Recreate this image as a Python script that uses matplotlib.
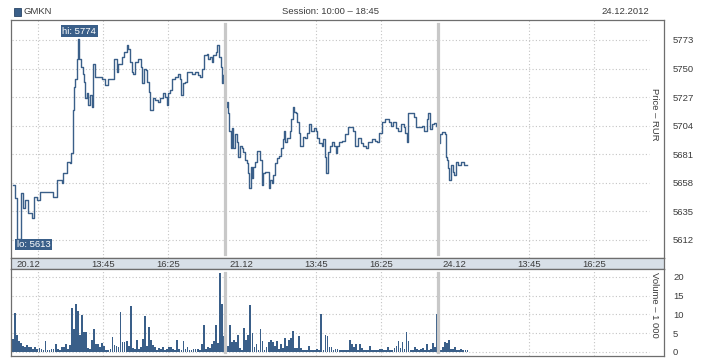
import numpy as np
import matplotlib.pyplot as plt
from matplotlib.patches import Rectangle

plt.rcParams['font.family'] = ['Liberation Sans Narrow', 'Liberation Sans', 'DejaVu Sans']

ticker = "GMKN"
session_txt = "Session: 10:00 – 18:45"
date_txt = "24.12.2012"
day_labels = ["20.12", "21.12", "24.12"]
time_labels = ["13:45", "16:25"]
time_label_min = [225, 385]
session_len = 525  # minutes 10:00-18:45

price_ticks = [5612, 5635, 5658, 5681, 5704, 5727, 5750, 5773]
vol_ticks = [0, 5, 10, 15, 20]

# price, minutes since session open, per day
d1_min = [2, 7, 12, 22, 27, 32, 39, 49, 54, 62, 69, 81, 101, 111, 123, 126, 136, 143, 145, 150,
          152, 155, 159, 162, 165, 169, 174, 177, 180, 184, 187, 192, 196, 200, 205, 210, 221, 229, 237, 242,
          251, 258, 261, 270, 276, 283, 286, 291, 295, 298, 303, 311, 317, 320, 325, 330, 333, 338, 340, 347,
          352, 360, 365, 372, 377, 381, 385, 389, 394, 402, 409, 414, 417, 421, 426, 431, 443, 451, 458, 463,
          468, 473, 480, 483, 488, 492, 495, 503, 506, 510, 515, 517, 521]
d1_px = [5656, 5646, 5613, 5650, 5638, 5644, 5634, 5630, 5647, 5644, 5651, 5651, 5647, 5660, 5658, 5666, 5675, 5674, 5682, 5717,
         5735, 5742, 5758, 5774, 5758, 5751, 5746, 5739, 5726, 5730, 5721, 5729, 5719, 5754, 5743, 5743, 5742, 5737, 5742, 5742,
         5758, 5747, 5754, 5759, 5763, 5769, 5766, 5755, 5747, 5746, 5755, 5758, 5751, 5738, 5750, 5749, 5739, 5731, 5717, 5726,
         5725, 5723, 5726, 5730, 5727, 5721, 5730, 5733, 5742, 5743, 5746, 5742, 5729, 5738, 5739, 5747, 5746, 5747, 5745, 5743,
         5750, 5761, 5762, 5758, 5759, 5755, 5761, 5763, 5769, 5759, 5751, 5738, 5745]

d2_min = [1, 4, 7, 10, 14, 17, 20, 25, 29, 32, 37, 41, 44, 49, 54, 57, 60, 64, 67, 70,
          74, 78, 82, 86, 90, 94, 98, 104, 108, 111, 115, 119, 123, 127, 134, 137, 142, 145, 149, 154,
          160, 163, 167, 170, 175, 178, 182, 186, 191, 197, 202, 207, 213, 219, 224, 227, 232, 238, 242, 246,
          250, 254, 259, 263, 268, 273, 276, 281, 288, 296, 304, 312, 316, 320, 329, 334, 341, 348, 353, 362,
          370, 375, 380, 386, 394, 403, 408, 415, 421, 427, 433, 440, 444, 448, 451, 460, 466, 471, 476, 485,
          491, 497, 501, 506, 510, 514, 519]
d2_px = [5719, 5723, 5714, 5700, 5686, 5702, 5686, 5697, 5691, 5679, 5688, 5686, 5683, 5676, 5674, 5666, 5654, 5671, 5662, 5671,
         5675, 5684, 5684, 5676, 5656, 5666, 5667, 5667, 5654, 5660, 5658, 5664, 5674, 5678, 5680, 5686, 5693, 5700, 5691, 5694,
         5700, 5709, 5719, 5715, 5714, 5707, 5698, 5688, 5695, 5694, 5698, 5705, 5700, 5702, 5700, 5694, 5690, 5688, 5693, 5679,
         5666, 5683, 5688, 5691, 5688, 5682, 5688, 5691, 5692, 5697, 5703, 5703, 5700, 5688, 5694, 5690, 5688, 5686, 5691, 5693,
         5692, 5691, 5698, 5707, 5709, 5707, 5704, 5707, 5702, 5700, 5705, 5703, 5698, 5691, 5714, 5714, 5711, 5703, 5703, 5704,
         5700, 5709, 5714, 5701, 5705, 5706, 5704]

d3_min = [1, 5, 11, 17, 20, 23, 25, 28, 31, 36, 39, 44, 50, 56, 62, 65, 72]
d3_px = [5690, 5697, 5699, 5697, 5679, 5676, 5670, 5660, 5672, 5667, 5664, 5675, 5672, 5675, 5675, 5672, 5672]

# volume (thousands) in 5-minute bins
vol_d1 = [3.5, 10.5, 4.5, 3.0, 2.5, 1.6, 1.2, 1.9, 1.4, 1.2,
          0.9, 1.4, 0.7, 1.0, 0.9, 0.5, 2.8, 0.5, 0.4, 0.7,
          0.9, 2.1, 0.9, 0.5, 1.2, 1.4, 2.0, 0.7, 1.9, 11.8,
          6.0, 12.8, 10.9, 4.5, 9.9, 5.2, 5.4, 1.0, 0.7, 3.2,
          6.2, 2.1, 2.1, 1.4, 2.3, 1.6, 0.5, 0.4, 0.7, 4.1,
          1.8, 1.6, 1.4, 10.7, 2.7, 2.6, 3.0, 1.6, 12.3, 1.0,
          0.9, 3.1, 0.9, 1.4, 3.4, 9.6, 1.6, 6.7, 3.2, 1.8,
          1.4, 0.5, 1.0, 0.7, 1.4, 0.5, 0.7, 1.4, 1.4, 0.9,
          0.5, 3.2, 0.9, 0.5, 2.9, 0.9, 1.4, 0.5, 0.5, 0.9,
          0.7, 0.9, 0.5, 2.1, 7.2, 0.7, 1.4, 1.0, 2.0, 2.9,
          7.2, 2.3, 21.0, 12.8, 4.3]
vol_d2 = [6.1, 1.5, 7.3, 2.6, 3.3, 2.6, 4.6, 1.1, 0.6, 6.4,
          3.1, 4.6, 12.4, 5.1, 1.3, 2.2, 0.6, 6.1, 2.8, 0.6,
          1.3, 2.6, 3.3, 2.6, 1.5, 2.8, 0.8, 2.2, 1.1, 3.6,
          1.7, 3.1, 3.6, 5.7, 1.0, 1.1, 4.2, 1.1, 0.6, 0.4,
          0.4, 1.5, 0.4, 0.4, 0.4, 0.8, 0.5, 10.0, 0.6, 4.4,
          4.2, 1.3, 1.3, 0.4, 0.8, 0.8, 0.4, 0.6, 0.4, 0.6,
          0.4, 3.3, 2.2, 1.3, 2.2, 0.6, 2.0, 1.0, 0.4, 0.6,
          0.4, 1.7, 0.4, 0.4, 0.6, 0.4, 0.8, 0.8, 0.4, 0.4,
          1.2, 0.4, 0.6, 1.1, 1.7, 2.8, 1.1, 2.6, 0.8, 5.4,
          3.0, 0.4, 0.6, 1.2, 0.8, 0.4, 0.8, 1.0, 0.4, 2.2,
          0.6, 0.8, 2.4, 1.3, 10.0]
vol_d3 = [1.3, 0.6, 1.3, 2.6, 2.4, 3.1, 0.8, 0.8, 1.3, 0.4, 0.6, 0.8, 0.4, 0.4, 0.4]

hi_val, lo_val = 5774, 5613

blue = '#3a5f89'
grid_c = '#c4c4c4'
frame_c = '#6e6e6e'
txt_c = '#3c3c3c'
fs = 6.8

W, H = 718, 360
fig = plt.figure(figsize=(W / 100, H / 100), dpi=100)


def box(x0, y0, x1, y1):
    return [x0 / W, 1 - y1 / H, (x1 - x0) / W, (y1 - y0) / H]


ax = fig.add_axes(box(11, 20, 664, 258))
axs = fig.add_axes(box(11, 258, 664, 269))
axv = fig.add_axes(box(11, 269, 664, 356))

xlim = (-2.5, 1607)
for a in (ax, axs, axv):
    a.set_xlim(*xlim)
    a.set_xticks([])
    for s in a.spines.values():
        s.set_color(frame_c)
        s.set_linewidth(0.9)

# price panel
ax.set_ylim(5597.5, 5789.1)
ax.hlines(price_ticks, 0, 1570, colors=grid_c, linestyles=(0, (1, 2)), lw=0.8, zorder=1)
for d, (mins, px) in enumerate([(d1_min, d1_px), (d2_min, d2_px), (d3_min, d3_px)]):
    t = np.array(mins) + d * session_len
    ax.plot(t, px, color=blue, lw=1.0, drawstyle='steps-post', zorder=2)

ax.yaxis.tick_right()
ax.set_yticks(price_ticks)
ax.tick_params(axis='y', length=0, pad=6.5, labelsize=fs, labelcolor=txt_c)
ax.text(0.986, 0.714, "Price – RUR", transform=ax.transAxes, rotation=270,
        ha='center', va='top', fontsize=fs, color=txt_c)

# hi / lo markers
ax.text(166, 5780, "hi: %d" % hi_val, ha='center', va='center', fontsize=fs, color='white',
        bbox=dict(boxstyle='square,pad=0.15', fc=blue, ec='none'), zorder=5)
ax.text(53, 5608.4, "lo: %d" % lo_val, ha='center', va='center', fontsize=fs, color='white',
        bbox=dict(boxstyle='square,pad=0.15', fc=blue, ec='none'), zorder=5)

# volume panel
axv.set_ylim(-1.07, 22.13)
axv.hlines(vol_ticks, 0, 1570, colors=grid_c, linestyles=(0, (1, 2)), lw=0.8, zorder=1)
for d, vols in enumerate([vol_d1, vol_d2, vol_d3]):
    t = d * session_len + 5 * np.arange(len(vols)) + 2.5
    axv.bar(t, vols, width=4.4, color=blue, linewidth=0, zorder=2)
axv.yaxis.tick_right()
axv.set_yticks(vol_ticks)
axv.tick_params(axis='y', length=0, pad=6.5, labelsize=fs, labelcolor=txt_c)
axv.text(0.986, 0.966, "Volume – 1 000", transform=axv.transAxes, rotation=270,
         ha='center', va='top', fontsize=fs, color=txt_c)

# vertical grid and day separators
for d in range(3):
    base = d * session_len
    marks = list(time_label_min)
    if d == 0:
        marks = [65] + marks
    for m in marks:
        ax.axvline(base + m, color=grid_c, ls=(0, (1, 2)), lw=0.8, zorder=1)
        axv.axvline(base + m, color=grid_c, ls=(0, (1, 2)), lw=0.8, zorder=1)
for d in (1, 2):
    ax.axvline(d * session_len, ymin=0.017, ymax=0.983, color='#c8c8c8', lw=2.3, zorder=3)
    axv.axvline(d * session_len, ymin=0.046, ymax=0.954, color='#c8c8c8', lw=2.3, zorder=3)

# date strip
axs.set_facecolor('#d8e0e8')
axs.set_ylim(0, 1)
axs.set_yticks([])
for d, lab in enumerate(day_labels):
    base = d * session_len
    axs.text(base + 12, 0.45, lab, ha='left', va='center', fontsize=fs, color=txt_c)
    for m, tl in zip(time_label_min, time_labels):
        axs.text(base + m, 0.45, tl, ha='center', va='center', fontsize=fs, color=txt_c)

# header
fig.add_artist(Rectangle((14 / W, 1 - 15.5 / H), 7 / W, 7 / H, transform=fig.transFigure,
                         fc=blue, ec='#2a4566', lw=0.6))
fig.text(23 / W, 1 - 12 / H, ticker, ha='left', va='center', fontsize=fs, color=txt_c)
fig.text(330 / W, 1 - 12 / H, session_txt, ha='center', va='center', fontsize=fs, color=txt_c)
fig.text(649 / W, 1 - 12 / H, date_txt, ha='right', va='center', fontsize=fs, color=txt_c)

fig.savefig("out.png", dpi=100, facecolor='white')
